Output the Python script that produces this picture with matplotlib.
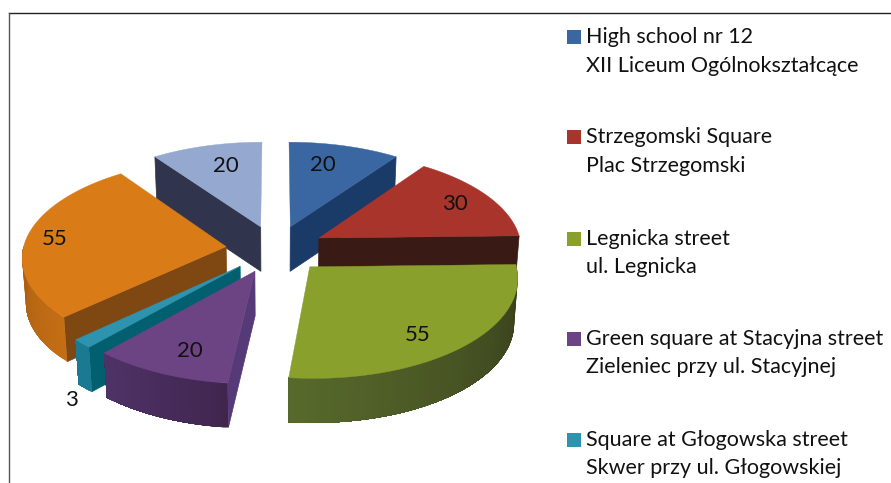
import numpy as np
import matplotlib
matplotlib.use("Agg")
import matplotlib.pyplot as plt
from matplotlib.collections import PolyCollection
from matplotlib.patches import Rectangle

# ---- data ----
categories_en = ["High school nr 12", "Strzegomski Square", "Legnicka street",
                 "Green square at Stacyjna street", "Square at Głogowska street", "", ""]
categories_pl = ["XII Liceum Ogólnokształcące", "Plac Strzegomski", "ul. Legnicka",
                 "Zieleniec przy ul. Stacyjnej", "Skwer przy ul. Głogowskiej", "", ""]
values = [20, 30, 55, 20, 3, 55, 20]

# ---- style ----
top_colors = ["#3A66A2", "#A9342B", "#89A02C", "#6D4483", "#2D93AE", "#D97C17", "#95A8CF"]
cut_colors = ["#1A3A68", "#3A1A15", "#38401A", "#563A78", "#015F70", "#7F4712", "#30344C"]
side_light = ["#1A3A68", "#3A1A15", "#586A2C", "#4F3368", "#1B7A92", "#A85E12", "#30344C"]
side_dark = ["#1A3A68", "#3A1A15", "#363D1A", "#40264F", "#1B7A92", "#C46E14", "#30344C"]
show_cut = [1, 1, 0, 1, 1, 1, 1]      # cut face at the wedge's "end" or "start" is visible
cut_at_end = [1, 1, 0, 0, 0, 0, 0]
draw_order = [6, 0, 1, 5, 4, 3, 2]
label_px = [(323, 165), (455, 204), (418, 335), (190, 351), (71, 400), (55, 239), (226, 166)]

CX, CY = 275.5, 249.0
SCALE, TILT, PERSP = 203.0, 97.0, 0.0975
EXPLODE = 0.245
DEPTH = 44.5
BOTTOM_X = 0.985

fig = plt.figure(figsize=(8.91, 4.83), dpi=100)
ax = fig.add_axes([0, 0, 1, 1])
ax.set_xlim(0, 891)
ax.set_ylim(483, 0)
ax.axis("off")


def project(X, Y, bottom=False):
    d = 1 - PERSP * Y
    sx = SCALE * (BOTTOM_X if bottom else 1.0)
    return CX + sx * X / d, CY + TILT * Y / d + (DEPTH if bottom else 0.0)


def mix(c1, c2, t):
    a, b = np.array(matplotlib.colors.to_rgb(c1)), np.array(matplotlib.colors.to_rgb(c2))
    return tuple(a + (b - a) * t)


angles = np.concatenate([[0], np.cumsum(values)]) / sum(values) * 2 * np.pi

for i in draw_order:
    a0, a1 = angles[i], angles[i + 1]
    mid = (a0 + a1) / 2
    ax0, ay0 = EXPLODE * np.sin(mid), -EXPLODE * np.cos(mid)
    th = np.linspace(a0, a1, 60)
    X = ax0 + np.sin(th)
    Y = ay0 - np.cos(th)
    tx, ty = project(X, Y)
    bx, by = project(X, Y, bottom=True)
    apx, apy = project(ax0, ay0)
    abx, aby = project(ax0, ay0, bottom=True)

    if show_cut[i]:
        k = -1 if cut_at_end[i] else 0
        quad = [(apx, apy), (tx[k], ty[k]), (bx[k], by[k]), (abx, aby)]
        ax.fill(*zip(*quad), color=cut_colors[i], lw=0.5, zorder=2)

    # outer wall: painted as nested strips so no seams show between them
    front = np.where(np.cos(th) < 0.02)[0]
    if len(front) > 1:
        span = max(th[front[-1]] - th[front[0]], 1e-6)
        for j in front[:-1]:
            rest = front[front >= j]
            poly = np.r_[np.c_[tx[rest], ty[rest]], np.c_[bx[rest][::-1], by[rest][::-1]]]
            col = mix(side_dark[i], side_light[i], (th[j] - th[front[0]]) / span)
            ax.add_collection(PolyCollection([poly], facecolors=[col], edgecolors="none",
                                             linewidths=0, zorder=2))

    ax.fill(np.r_[apx, tx], np.r_[apy, ty], color=top_colors[i], lw=0.3, zorder=2)

for v, (lx, ly) in zip(values, label_px):
    ax.text(lx, ly, str(v), fontsize=16, family="Lato", color="#111111",
            ha="center", va="center", zorder=5)

# legend
rows = [37, 137, 239, 339, 440]
rows2 = [66, 166, 267, 367, 468]
for i, (y1, y2) in enumerate(zip(rows, rows2)):
    ax.add_patch(Rectangle((567, y1 - 7), 14, 14, fc=top_colors[i], ec="none", zorder=3))
    ax.text(586, y1, categories_en[i], fontsize=15.5, family="Lato", color="#111111", va="center", ha="left")
    ax.text(586, y2, categories_pl[i], fontsize=15.5, family="Lato", color="#111111", va="center", ha="left")

# frame
ax.plot([8.5, 891], [12.5, 12.5], color="#222222", lw=1.0, zorder=1)
ax.plot([8.5, 8.5], [12.5, 483], color="#555555", lw=1.0, zorder=1)

fig.savefig("out.png", dpi=100)
